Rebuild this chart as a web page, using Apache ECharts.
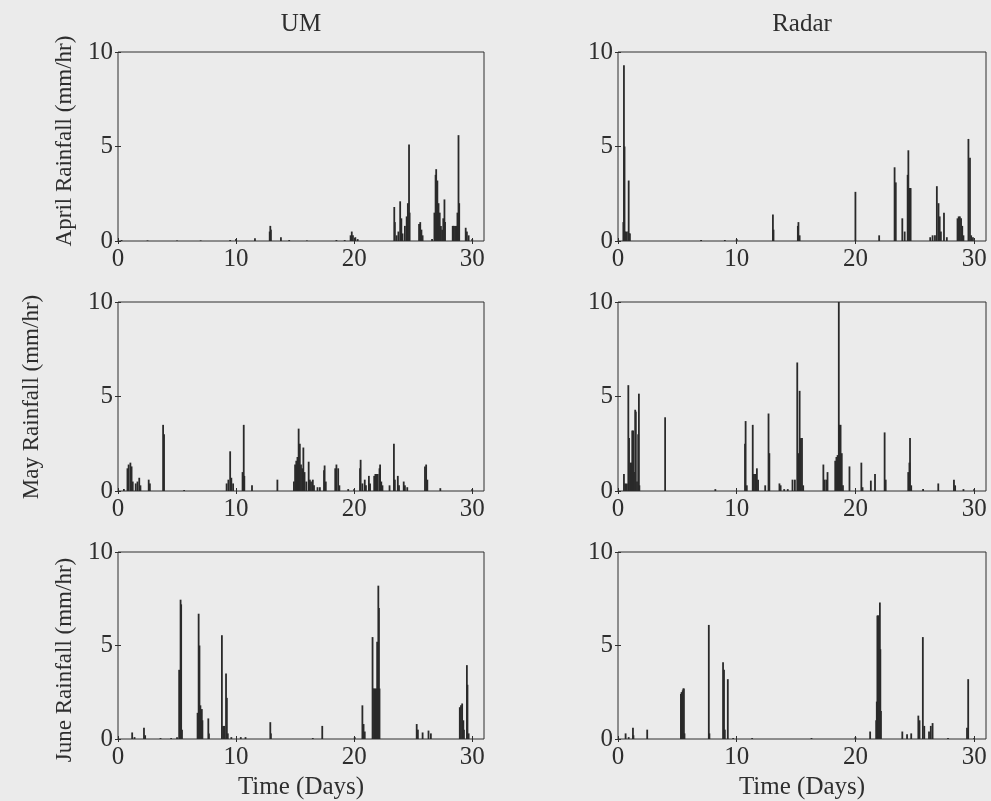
<!DOCTYPE html>
<html lang="en">
<head>
<meta charset="utf-8">
<script src="https://cdn.jsdelivr.net/npm/echarts@6/dist/echarts.min.js"></script>
<style>
    html, body { margin: 0; padding: 0; background: #ebebeb; }
    #chart { width: 991px; height: 801px; }
</style>
</head>
<body>
<div id="chart"></div>
<script>
    // rainfall spikes, [day, mm/hr]
    var umApr = [[0.3,0.05],[2.5,0.03],[5,0.03],[7,0.03],[9.5,0.05],[10,0.1],[11.6,0.15],[12.85,0.5],[12.9,0.8],[12.95,0.6],[13.8,0.2],[14.5,0.05],[16,0.03],
        [18.5,0.05],[19.2,0.05],[19.7,0.3],[19.8,0.5],[19.9,0.3],[20.1,0.2],[20.3,0.1],[23.4,1.8],[23.45,1.0],[23.6,0.3],[23.75,0.5],[23.9,2.1],[24.0,1.2],
        [24.1,0.4],[24.3,0.8],[24.45,1.3],[24.55,2.0],[24.65,5.1],[24.7,1.5],[25.5,0.9],[25.6,1.0],[25.7,0.6],[25.8,0.3],[26.6,0.1],[26.8,1.5],[26.9,3.5],
        [26.95,3.8],[27.05,3.2],[27.15,2.0],[27.25,1.5],[27.35,0.8],[27.45,0.6],[27.55,1.2],[27.65,2.2],[27.7,1.0],[28.35,0.8],[28.45,0.8],[28.55,0.8],
        [28.65,0.8],[28.75,1.5],[28.84,5.6],[28.9,2.0],[29.45,0.7],[29.55,0.5],[29.7,0.3],[30,0.1]];
    var rdApr = [[0.45,1.0],[0.5,9.3],[0.55,5.0],[0.6,0.5],[0.7,0.5],[0.85,0.5],[0.9,3.2],[0.95,0.4],[1.0,0.4],[7,0.05],[9,0.05],[10,0.1],[13.05,1.4],
        [13.1,0.6],[15.15,0.8],[15.2,1.0],[15.3,0.3],[20,2.6],[22,0.3],[23.3,3.9],[23.4,3.1],[23.95,1.2],[24.15,0.5],[24.4,3.5],[24.46,4.8],[24.52,2.8],
        [24.6,2.8],[24.65,2.8],[26.3,0.2],[26.5,0.3],[26.7,0.3],[26.86,2.9],[27.0,2.0],[27.1,1.3],[27.2,0.5],[27.46,1.5],[27.7,0.2],[28.6,1.2],[28.7,1.3],
        [28.8,1.3],[28.9,1.2],[29.0,0.8],[29.1,0.3],[29.52,5.4],[29.65,4.4],[29.75,0.3],[29.9,0.2]];
    var umMay = [[0.5,0.1],[0.8,1.2],[0.9,1.4],[1.05,1.5],[1.15,1.3],[1.25,0.5],[1.5,0.4],[1.65,0.5],[1.8,0.7],[1.9,0.3],[2.6,0.6],[2.7,0.4],[3.82,3.5],
        [3.9,3.0],[5.6,0.05],[9.2,0.4],[9.35,0.6],[9.5,2.1],[9.6,0.7],[9.75,0.4],[10.55,1.0],[10.65,3.5],[10.7,0.8],[11.35,0.3],[13.5,0.6],[14.9,0.5],
        [15.0,1.4],[15.1,1.6],[15.2,1.8],[15.3,3.3],[15.4,2.5],[15.5,1.4],[15.6,1.2],[15.7,2.3],[15.8,1.0],[15.95,0.5],[16.15,1.55],[16.25,0.6],[16.35,0.5],
        [16.5,0.6],[16.6,0.3],[16.9,0.2],[17.1,0.2],[17.45,1.1],[17.5,1.35],[17.6,0.5],[18.4,1.2],[18.5,1.4],[18.65,1.2],[18.75,0.3],[19.5,0.1],[20.0,0.1],
        [20.5,1.2],[20.55,1.65],[20.7,0.4],[20.9,0.6],[21.0,0.3],[21.25,0.8],[21.35,0.4],[21.7,0.8],[21.8,0.9],[21.9,0.9],[22.0,0.9],[22.15,1.2],[22.2,1.4],
        [22.3,0.5],[22.4,0.3],[23.0,0.3],[23.37,2.5],[23.45,0.6],[23.7,0.8],[23.8,0.3],[24.2,0.5],[24.3,0.3],[24.5,0.2],[26.0,1.3],[26.1,1.4],[26.2,0.6],
        [27.3,0.15],[30.0,0.1]];
    var rdMay = [[0.5,0.9],[0.6,0.4],[0.75,0.4],[0.87,5.6],[0.93,2.8],[1.05,1.5],[1.15,1.5],[1.2,3.2],[1.28,3.2],[1.35,1.0],[1.45,4.3],[1.5,4.2],[1.6,0.5],
        [1.7,3.0],[1.76,5.15],[1.8,0.3],[3.97,3.9],[8.2,0.1],[10.7,2.5],[10.75,3.7],[10.85,0.3],[11.35,3.5],[11.45,0.9],[11.55,0.9],[11.7,1.2],[11.8,0.6],
        [12.4,0.3],[12.68,4.1],[12.75,2.0],[13.6,0.4],[13.7,0.3],[14.0,0.1],[14.3,0.1],[14.7,0.6],[14.9,0.6],[15.1,6.8],[15.2,2.0],[15.3,5.3],[15.4,2.8],
        [15.5,2.8],[15.6,0.3],[17.3,1.4],[17.4,0.6],[17.55,0.6],[17.65,1.0],[18.3,1.6],[18.4,1.8],[18.5,1.9],[18.6,10],[18.65,3.5],[18.75,3.5],[18.85,2.0],
        [18.95,0.3],[19.5,1.3],[20.5,1.5],[20.6,0.2],[21.3,0.55],[21.65,0.9],[22.46,3.1],[22.55,0.6],[24.45,1.0],[24.55,1.5],[24.6,2.8],[24.7,0.3],[25.7,0.1],
        [26.98,0.4],[28.3,0.6],[28.4,0.3],[29.1,0.1],[30.0,0.1]];
    var umJun = [[1.2,0.35],[1.4,0.1],[2.2,0.6],[2.3,0.2],[3.6,0.05],[4.5,0.05],[5.0,0.1],[5.18,3.7],[5.3,7.45],[5.35,7.2],[5.42,0.5],[6.74,1.4],[6.83,6.7],
        [6.9,5.0],[6.98,1.8],[7.1,1.6],[7.15,1.0],[7.65,1.1],[7.7,0.3],[8.8,5.55],[8.9,0.7],[9.0,0.7],[9.15,3.5],[9.22,2.2],[9.3,0.3],[9.6,0.1],[10.4,0.1],
        [10.8,0.1],[12.9,0.9],[12.95,0.3],[16.5,0.05],[17.3,0.7],[20.05,0.1],[20.7,1.8],[20.8,0.8],[20.9,0.4],[21.56,5.45],[21.6,2.7],[21.7,2.7],[21.8,2.7],
        [21.9,2.7],[21.95,5.2],[22.05,8.2],[22.1,7.0],[22.15,2.7],[25.3,0.8],[25.4,0.5],[25.8,0.35],[26.3,0.45],[26.5,0.3],[28.95,1.7],[29.05,1.8],[29.15,1.9],
        [29.25,1.0],[29.3,0.5],[29.55,3.95],[29.6,2.9],[29.7,0.3]];
    var rdJun = [[0.64,0.3],[0.9,0.1],[1.26,0.6],[1.3,0.2],[2.46,0.5],[5.3,2.4],[5.35,2.5],[5.4,2.5],[5.45,2.6],[5.5,2.7],[5.55,2.7],[5.6,0.3],[7.65,6.1],
        [7.7,0.3],[8.85,4.1],[8.93,3.7],[9.0,0.5],[9.25,3.2],[9.7,0.05],[11.3,0.05],[16.3,0.05],[20.0,0.1],[21.24,0.4],[21.75,1.0],[21.8,2.0],[21.85,6.6],
        [21.9,6.6],[21.95,6.6],[22.0,4.8],[22.06,7.3],[22.1,4.8],[22.15,1.5],[23.95,0.4],[24.35,0.25],[24.7,0.3],[25.3,1.25],[25.4,1.0],[25.68,5.45],
        [25.8,0.7],[26.2,0.4],[26.35,0.7],[26.5,0.85],[27.8,0.05],[29.4,0.6],[29.5,3.2],[30.0,0.05]];

    var panels = [umApr, rdApr, umMay, rdMay, umJun, rdJun];
    var colNames = ['UM', 'Radar'];
    var rowNames = ['April Rainfall (mm/hr)', 'May Rainfall (mm/hr)', 'June Rainfall (mm/hr)'];
    var xName = 'Time (Days)';
    var xTicks = [0, 10, 20, 30];
    var yTicks = [0, 5, 10];

    var font = '"Liberation Serif", "DejaVu Serif", serif';
    var ink = '#2e2e2e';
    var colLeft = [118, 618], colWidth = [366, 368];
    var rowTop = [52, 302, 552], rowHeight = [189, 189, 187];

    var grids = [], xAxes = [], yAxes = [], series = [];
    for (var i = 0; i < panels.length; i++) {
        var r = Math.floor(i / 2), c = i % 2;
        grids.push({
            left: colLeft[c], top: rowTop[r], width: colWidth[c], height: rowHeight[r],
            show: true, borderColor: ink, borderWidth: 1, backgroundColor: 'transparent'
        });
        var tick = {show: true, inside: true, length: 3, lineStyle: {color: ink}};
        xAxes.push({
            type: 'value', gridIndex: i, min: 0, max: 31, position: 'bottom',
            axisLine: {show: false}, splitLine: {show: false},
            axisTick: Object.assign({customValues: xTicks}, tick),
            axisLabel: {customValues: xTicks, color: ink, fontFamily: font, fontSize: 25, margin: 6},
            name: r === 2 ? xName : '', nameLocation: 'middle', nameGap: 36,
            nameTextStyle: {color: ink, fontFamily: font, fontSize: 25}
        });
        // mirrored ticks on top / right like the original box
        xAxes.push({
            type: 'value', gridIndex: i, min: 0, max: 31, position: 'top',
            axisLine: {show: false}, splitLine: {show: false}, axisLabel: {show: false},
            axisTick: Object.assign({customValues: xTicks}, tick)
        });
        yAxes.push({
            type: 'value', gridIndex: i, min: 0, max: 10, position: 'left',
            axisLine: {show: false}, splitLine: {show: false},
            axisTick: Object.assign({customValues: yTicks}, tick),
            axisLabel: {customValues: yTicks, color: ink, fontFamily: font, fontSize: 25, margin: 5}
        });
        yAxes.push({
            type: 'value', gridIndex: i, min: 0, max: 10, position: 'right',
            axisLine: {show: false}, splitLine: {show: false}, axisLabel: {show: false},
            axisTick: Object.assign({customValues: yTicks}, tick)
        });
        series.push({
            type: 'bar', xAxisIndex: 2 * i, yAxisIndex: 2 * i,
            barWidth: 1.8, silent: true, animation: false,
            itemStyle: {color: '#2a2a2a'},
            data: panels[i]
        });
    }

    var graphics = [];
    colNames.forEach(function (t, c) {
        graphics.push({type: 'text', x: colLeft[c] + colWidth[c] / 2, y: 24,
            style: {text: t, fill: ink, font: '25px ' + font, textAlign: 'center', textVerticalAlign: 'middle'}});
    });
    var labelX = [65, 32, 65], labelY = [141, 397, 660];
    rowNames.forEach(function (t, r) {
        graphics.push({type: 'text', x: labelX[r], y: labelY[r], rotation: Math.PI / 2,
            style: {text: t, fill: ink, font: '23px ' + font, textAlign: 'center', textVerticalAlign: 'middle'}});
    });

    var chart = echarts.init(document.getElementById('chart'));
    chart.setOption({
        backgroundColor: '#ebebeb',
        animation: false,
        grid: grids,
        xAxis: xAxes,
        yAxis: yAxes,
        series: series,
        graphic: graphics
    });
</script>
</body>
</html>
